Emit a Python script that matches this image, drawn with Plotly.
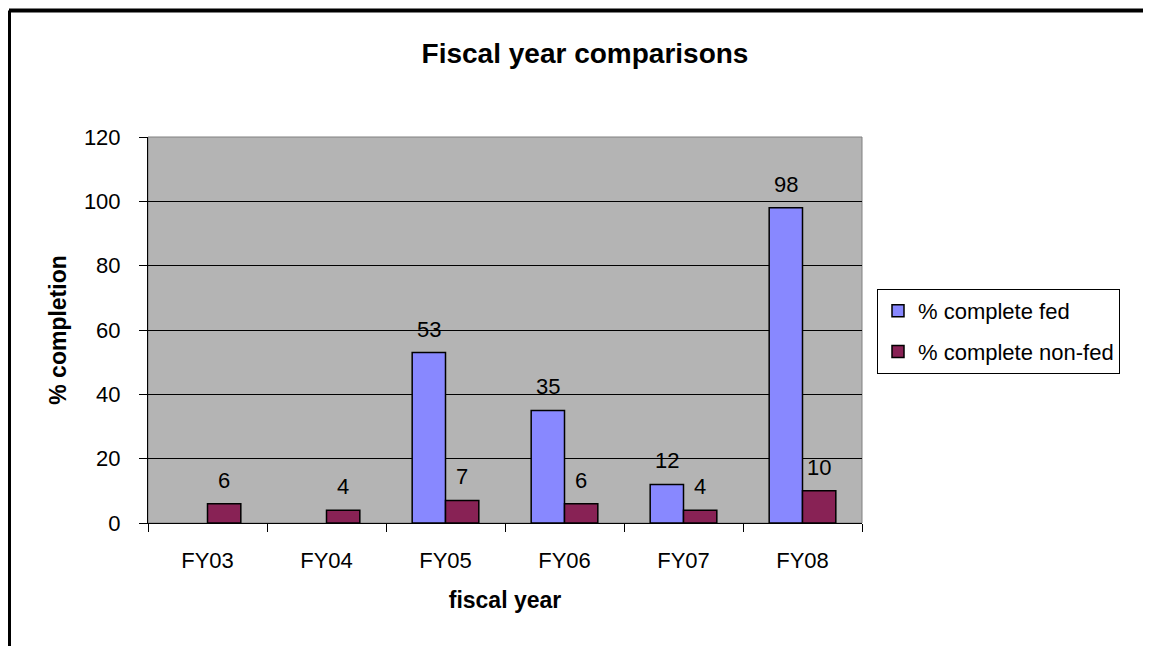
import plotly.graph_objects as go

categories = ["FY03", "FY04", "FY05", "FY06", "FY07", "FY08"]
fed = [None, None, 53, 35, 12, 98]
nonfed = [6, 4, 7, 6, 4, 10]
y_ticks = [0, 20, 40, 60, 80, 100, 120]

FONT = "Liberation Sans, Arial, sans-serif"
BARGAP = 0.44

fig = go.Figure()
fig.add_trace(go.Bar(
    x=categories, y=fed, name="% complete fed",
    marker=dict(color="#8888FF", line=dict(color="black", width=1.5)),
    legendgroup="a",
))
fig.add_trace(go.Bar(
    x=categories, y=nonfed, name="% complete non-fed",
    marker=dict(color="#882255", line=dict(color="black", width=1.5)),
    legendgroup="b",
))

# data labels placed above each bar (offset of grouped bars computed from bargap)
half = (1 - BARGAP) / 4
for series, off in ((fed, -half), (nonfed, half)):
    for i, v in enumerate(series):
        if v is None:
            continue
        fig.add_annotation(x=i + off, y=v, xref="x", yref="y", text=str(v),
                           showarrow=False, yanchor="bottom", yshift=9,
                           font=dict(size=22, color="black", family=FONT))

W, H = 1143, 638
L, T, R, B = 140, 129, 289, 123
PW = W - L - R
PH = H - T - B

fig.update_layout(
    width=W, height=H,
    margin=dict(l=L, r=R, t=T, b=B),
    paper_bgcolor="white", plot_bgcolor="#B4B4B4",
    font=dict(family=FONT, size=22, color="black"),
    barmode="group", bargap=BARGAP, bargroupgap=0,
    title=dict(text="<b>Fiscal year comparisons</b>", x=577/W, xanchor="center",
               y=1-45/H, yanchor="middle", font=dict(size=28)),
    showlegend=True,
    legend=dict(x=(869-L)/PW, xanchor="left", y=(515-281)/PH, yanchor="top",
                bordercolor="black", borderwidth=1, bgcolor="white",
                font=dict(size=22), tracegroupgap=9, traceorder="grouped"),
)
fig.update_xaxes(
    type="category", tickson="boundaries", ticks="outside", ticklen=8,
    tickcolor="black", showline=True, linecolor="black", linewidth=1,
    showgrid=False, tickfont=dict(size=22), ticklabelstandoff=18,
    title=dict(text="<b>fiscal year</b>", font=dict(size=23), standoff=19),
)
fig.update_yaxes(
    range=[0, 120], tickvals=y_ticks, ticks="outside", ticklen=8,
    tickcolor="black", showline=True, linecolor="black", linewidth=1,
    showgrid=True, gridcolor="black", gridwidth=1, zeroline=False,
    tickfont=dict(size=22), ticklabelstandoff=14,
    title=dict(text="<b>% completion</b>", font=dict(size=23), standoff=10),
)

# plot-area border (gray)
fig.add_shape(type="rect", xref="paper", yref="paper", x0=0, x1=1, y0=0, y1=1,
              line=dict(color="#808080", width=1), layer="below", fillcolor="rgba(0,0,0,0)")
# outer frame (left and top, thick black)
fx = (1 - L) / PW
fy = (H - B - 2.5) / PH
fig.add_shape(type="line", xref="paper", yref="paper",
              x0=fx, x1=fx, y0=-B / PH - 0.1, y1=fy,
              line=dict(color="black", width=4))
fig.add_shape(type="line", xref="paper", yref="paper",
              x0=fx, x1=(W + 20 - L) / PW, y0=fy, y1=fy,
              line=dict(color="black", width=4))

fig.write_html("out.html")
